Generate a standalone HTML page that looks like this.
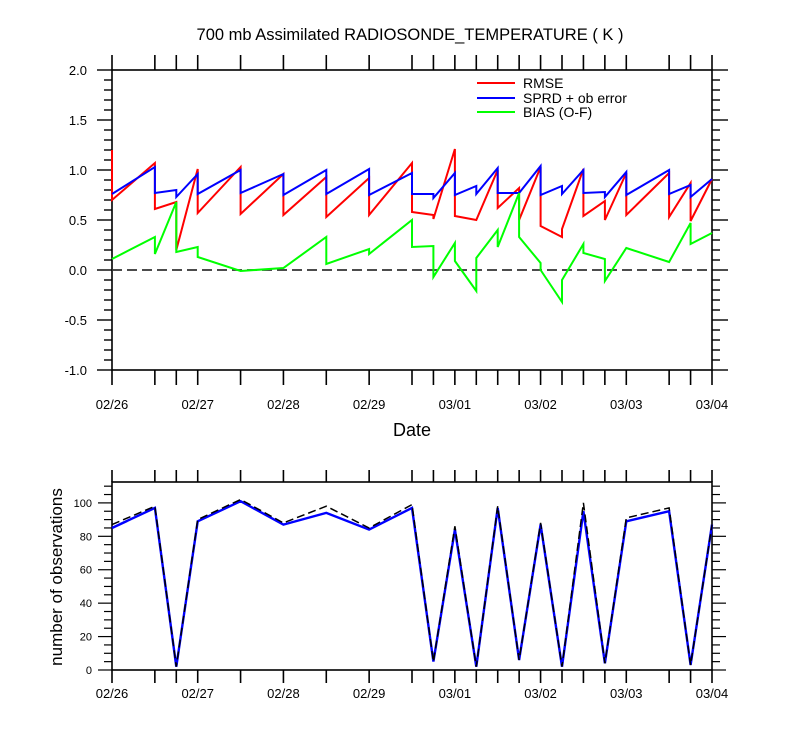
<!DOCTYPE html>
<html><head><meta charset="utf-8"><style>
body{margin:0;background:#fff;}
svg{display:block;font-family:"Liberation Sans",sans-serif;}
</style></head><body>
<svg id="chart" width="800" height="750" viewBox="0 0 800 750">
<text x="410" y="40" font-size="16.5" text-anchor="middle">700 mb Assimilated RADIOSONDE_TEMPERATURE ( K )</text>
<text x="412" y="436" font-size="18" text-anchor="middle">Date</text>
<text x="0" y="0" font-size="17" text-anchor="middle" transform="translate(62,577) rotate(-90)">number of observations</text>
<g>
<line x1="477" y1="83" x2="515" y2="83" stroke="#ff0000" stroke-width="2"/>
<text x="523" y="88" font-size="14">RMSE</text>
<line x1="477" y1="98" x2="515" y2="98" stroke="#0000ff" stroke-width="2"/>
<text x="523" y="103" font-size="14">SPRD + ob error</text>
<line x1="477" y1="112" x2="515" y2="112" stroke="#00ff00" stroke-width="2"/>
<text x="523" y="117" font-size="14">BIAS (O-F)</text>
</g>
</svg>
<script>
const dateLabels=["02/26","02/27","02/28","02/29","03/01","03/02","03/03","03/04"];
const obsTimes=[0,0.5,0.75,1,1.5,2,2.5,3,3.5,3.75,4,4.25,4.5,4.75,5,5.25,5.5,5.75,6,6.5,6.75,7];
const topTicks=[-1.0,-0.5,0.0,0.5,1.0,1.5,2.0];
const botTicks=[0,20,40,60,80,100];
const rmseT=[0,0,0.5,0.5,0.75,0.75,1,1,1.5,1.5,2,2,2.5,2.5,3,3,3.5,3.5,3.75,3.75,4,4,4.25,4.5,4.5,4.75,4.75,5,5,5.25,5.25,5.5,5.5,5.75,5.75,6,6,6.5,6.5,6.75,6.75,7];
const rmseV=[1.2,0.7,1.07,0.61,0.68,0.2,1.01,0.57,1.03,0.56,0.96,0.55,0.93,0.53,0.92,0.55,1.07,0.58,0.55,0.51,1.21,0.54,0.5,1.0,0.62,0.82,0.5,1.03,0.44,0.33,0.41,1.01,0.54,0.69,0.5,0.97,0.55,0.97,0.53,0.87,0.49,0.91];
const sprdT=[0,0.5,0.5,0.75,0.75,1,1,1.5,1.5,2,2,2.5,2.5,3,3,3.5,3.5,3.75,3.75,4,4,4.25,4.25,4.5,4.5,4.75,5,5,5.25,5.25,5.5,5.5,5.75,5.75,6,6,6.5,6.5,6.75,6.75,7];
const sprdV=[0.76,1.03,0.77,0.8,0.73,0.96,0.76,1.0,0.77,0.96,0.75,1.0,0.76,1.01,0.75,0.97,0.76,0.76,0.72,0.97,0.75,0.84,0.76,1.02,0.77,0.77,1.04,0.75,0.84,0.76,1.0,0.77,0.78,0.73,0.98,0.75,1.0,0.76,0.85,0.73,0.91];
const biasT=[0,0.5,0.5,0.75,0.75,1,1,1.5,2,2.5,2.5,3,3,3.5,3.5,3.75,3.75,4,4,4.25,4.25,4.5,4.5,4.75,4.75,5,5,5.25,5.25,5.5,5.5,5.75,5.75,6,6.5,6.75,6.75,7];
const biasV=[0.11,0.33,0.16,0.68,0.18,0.23,0.13,-0.01,0.02,0.33,0.06,0.21,0.16,0.5,0.23,0.24,-0.07,0.27,0.09,-0.21,0.12,0.4,0.23,0.77,0.33,0.07,0.0,-0.32,-0.1,0.26,0.17,0.11,-0.11,0.22,0.08,0.47,0.26,0.37];
const nobsAssim=[85,97,2,89,101,87,94,84,97,5,84,2,97,6,87,2,95,4,89,95,3,87];
const nobsTotal=[87,98,2,90,102,88,98,85,99,5,86,2,98,6,88,2,100,4,91,97,3,87];

const svg=document.getElementById('chart');
const NS='http://www.w3.org/2000/svg';
const X0=112,X1=712;
const xs=t=>X0+t*(X1-X0)/7;
const T={top:70,bot:370,min:-1,max:2};
const B={top:482,bot:670,min:0,max:112.5};
const ysT=v=>T.bot-(v-T.min)*(T.bot-T.top)/(T.max-T.min);
const ysB=v=>B.bot-(v-B.min)*(B.bot-B.top)/(B.max-B.min);
function mk(tag,attrs){const e=document.createElementNS(NS,tag);for(const k in attrs)e.setAttribute(k,attrs[k]);svg.appendChild(e);return e;}
function ln(x1,y1,x2,y2,w){return mk('line',{x1,y1,x2,y2,stroke:'#000','stroke-width':w});}

let f=mk('rect',{x:X0,y:T.top,width:X1-X0,height:T.bot-T.top,fill:'none',stroke:'#000','stroke-width':1.6});


f=mk('rect',{x:X0,y:B.top,width:X1-X0,height:B.bot-B.top,fill:'none',stroke:'#000','stroke-width':1.6});



obsTimes.forEach(t=>{const x=xs(t);
 let a=ln(x,T.top,x,T.top-15,1.6);
 a=ln(x,T.bot,x,T.bot+15,1.6);
 a=ln(x,B.top,x,B.top-12,1.6);
 a=ln(x,B.bot,x,B.bot+13,1.6);
});
dateLabels.forEach((d,i)=>{const x=xs(i);
 let t=mk('text',{x,y:409,'font-size':13,'text-anchor':'middle'});t.textContent=d;
 
 t=mk('text',{x,y:698,'font-size':13,'text-anchor':'middle'});t.textContent=d;
 
});
for(let i=0;i<=30;i++){const v=T.min+i*0.1;const y=ysT(v);const maj=i%5===0;
 let a=ln(X0-(maj?15:8),y,X0,y,1.4);
 a=ln(X1,y,X1+(maj?16:8),y,1.4);
}
topTicks.forEach(v=>{const t=mk('text',{x:87,y:ysT(v)+5,'font-size':13,'text-anchor':'end'});t.textContent=v.toFixed(1);
 });
for(let v=0;v<=110;v+=5){const y=ysB(v);const maj=v%20===0;
 let a=ln(X0-(maj?14:8),y,X0,y,1.2);
 a=ln(X1,y,X1+(maj?14:8),y,1.2);
}
botTicks.forEach(v=>{const t=mk('text',{x:92,y:ysB(v)+4,'font-size':11,'text-anchor':'end'});t.textContent=v;
 });

let z=mk('line',{x1:X0,y1:ysT(0),x2:X1,y2:ysT(0),stroke:'#333','stroke-width':1.8,'stroke-dasharray':'10 5'});



function poly(ts,vs,ysf,color,w,dash){const pts=ts.map((t,i)=>xs(t).toFixed(1)+','+ysf(vs[i]).toFixed(1)).join(' ');
 const p=mk('polyline',{points:pts,fill:'none',stroke:color,'stroke-width':w,'stroke-linejoin':'miter'});if(dash)p.setAttribute('stroke-dasharray',dash);return p;}
let p=poly(rmseT,rmseV,ysT,'#ff0000',2);


p=poly(sprdT,sprdV,ysT,'#0000ff',2);


p=poly(biasT,biasV,ysT,'#00ff00',2);


p=poly(obsTimes,nobsAssim,ysB,'#0000ff',2.4);


p=poly(obsTimes,nobsTotal,ysB,'#000',1.5,'8 4');


</script>
</body></html>
